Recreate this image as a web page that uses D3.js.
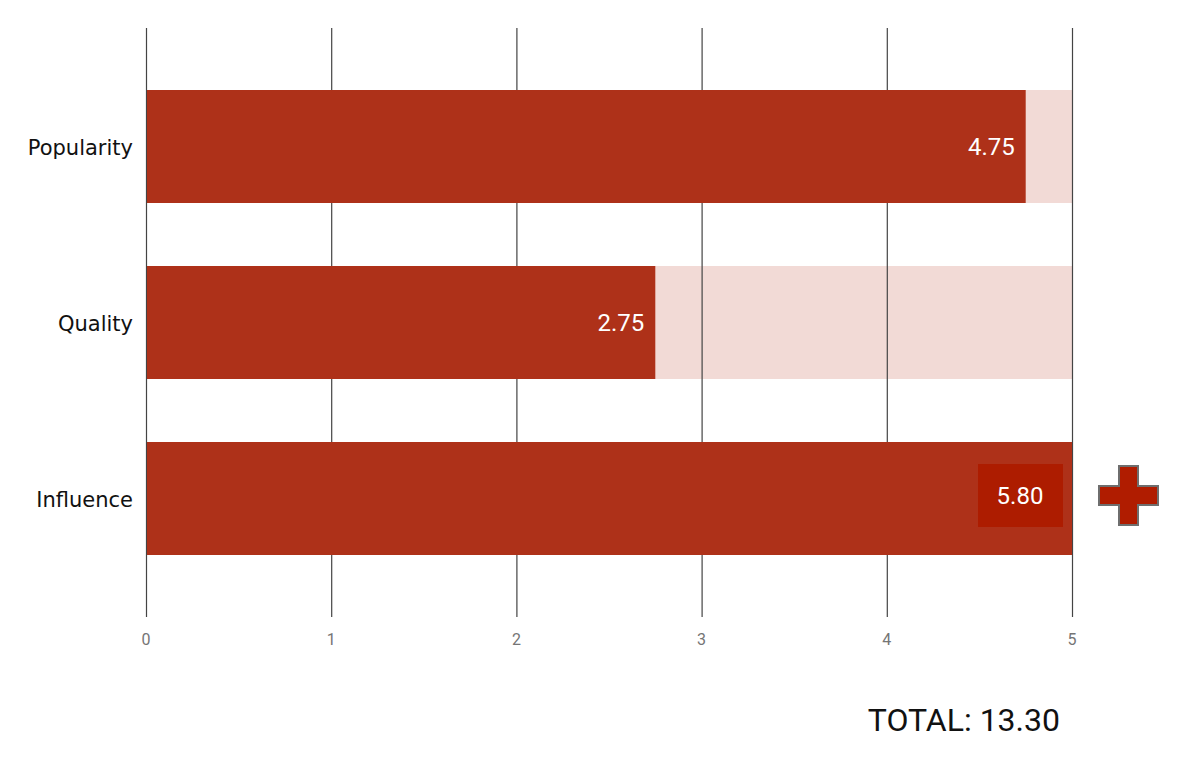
<!DOCTYPE html>
<html><head><meta charset="utf-8">
<script src="https://cdn.jsdelivr.net/npm/d3@7"></script>
<style>body{margin:0;background:#fff}svg{display:block}</style>
</head><body>
<script>
const categories = ["Popularity", "Quality", "Influence"];
const values = [4.75, 2.75, 5.80];
const maxValue = 5;
const ticks = [0, 1, 2, 3, 4, 5];
const totalLabel = "TOTAL: 13.30";

const W = 1180, H = 770;
const svg = d3.select("body").append("svg").attr("width", W).attr("height", H);
const x = d3.scaleLinear().domain([0, maxValue]).range([146, 1072]);
const y = d3.scaleBand().domain(categories).range([90, 555]).paddingInner(63 / 176).paddingOuter(0);

// background bars
svg.selectAll("rect.bg").data(categories).enter().append("rect")
  .attr("x", x(0)).attr("y", d => y(d)).attr("width", x(maxValue) - x(0)).attr("height", y.bandwidth())
  .attr("fill", "#f2dad6");

// gridlines
svg.selectAll("line.grid").data(ticks).enter().append("line")
  .attr("x1", d => x(d) + 0.5).attr("x2", d => x(d) + 0.5).attr("y1", 28).attr("y2", 617)
  .attr("stroke", "#444").attr("stroke-width", 1.2);

// value bars
svg.selectAll("rect.bar").data(categories).enter().append("rect")
  .attr("x", x(0) + 1).attr("y", d => y(d))
  .attr("width", (d, i) => x(Math.min(values[i], maxValue)) - x(0) - 1)
  .attr("height", y.bandwidth()).attr("fill", "#ae3119");

// tick labels
svg.selectAll("text.tick").data(ticks).enter().append("text")
  .attr("x", d => x(d)).attr("y", 645).attr("text-anchor", "middle")
  .attr("font-family", "Roboto").attr("font-size", 16).attr("fill", "#757575").text(d => d);

// category labels
svg.selectAll("text.cat").data(categories).enter().append("text")
  .attr("x", 133).attr("y", d => y(d) + y.bandwidth() / 2 + 8).attr("text-anchor", "end")
  .attr("font-family", "DejaVu Sans").attr("font-size", 21).attr("fill", "#111").text(d => d);

// value labels
categories.forEach((c, i) => {
  const v = values[i];
  const cy = y(c) + y.bandwidth() / 2;
  if (v > maxValue) {
    svg.append("rect").attr("x", x(maxValue) - 94).attr("y", cy - 34.5).attr("width", 85).attr("height", 63)
      .attr("fill", "#ad1c00");
    svg.append("text").attr("x", x(maxValue) - 52).attr("y", cy + 5.5).attr("text-anchor", "middle")
      .attr("font-family", "Roboto").attr("font-size", 24).attr("fill", "#fff").text(v.toFixed(2));
    // plus icon
    const px = x(maxValue) + 56.5, py = cy - 3, a = 9.5, b = 29.5;
    const pts = [[-a,-b],[a,-b],[a,-a],[b,-a],[b,a],[a,a],[a,b],[-a,b],[-a,a],[-b,a],[-b,-a],[-a,-a]];
    svg.append("path").attr("d", "M" + pts.map(p => (px + p[0]) + "," + (py + p[1])).join("L") + "Z")
      .attr("fill", "#b01c00").attr("stroke", "#6e6e6e").attr("stroke-width", 2);
  } else {
    svg.append("text").attr("x", x(v) - 11).attr("y", cy + 8).attr("text-anchor", "end")
      .attr("font-family", "Roboto").attr("font-size", 24).attr("fill", "#fff").text(v.toFixed(2));
  }
});

svg.append("text").attr("x", 1060).attr("y", 731).attr("text-anchor", "end")
  .attr("font-family", "Roboto").attr("font-size", 32).attr("fill", "#111").text(totalLabel);
</script>
</body></html>
